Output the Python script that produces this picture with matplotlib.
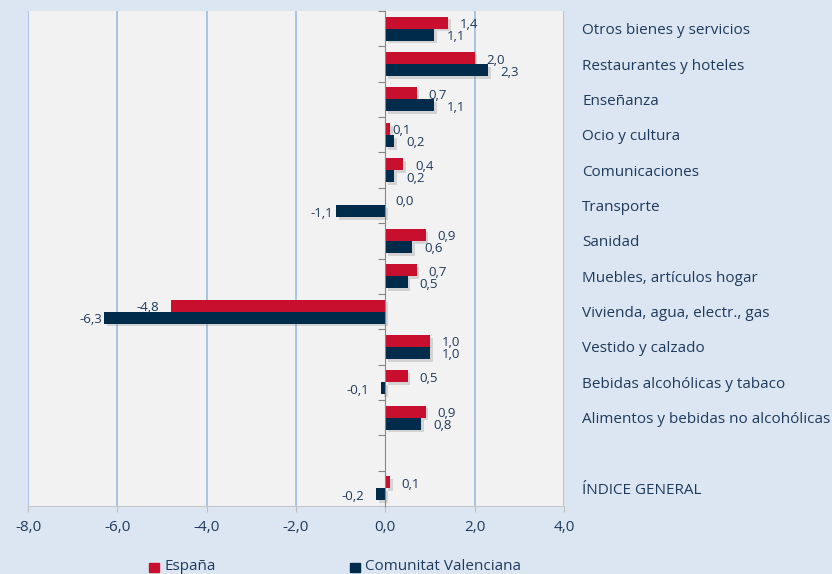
import matplotlib
matplotlib.use("Agg")
import matplotlib.pyplot as plt
import matplotlib.patheffects as pe
from matplotlib.transforms import blended_transform_factory, offset_copy
import numpy as np

categories = ["Otros bienes y servicios", "Restaurantes y hoteles", "Enseñanza",
              "Ocio y cultura", "Comunicaciones", "Transporte", "Sanidad",
              "Muebles, artículos hogar", "Vivienda, agua, electr., gas",
              "Vestido y calzado", "Bebidas alcohólicas y tabaco",
              "Alimentos y bebidas no alcohólicas", "", "ÍNDICE GENERAL"]
espana = [1.4, 2.0, 0.7, 0.1, 0.4, 0.0, 0.9, 0.7, -4.8, 1.0, 0.5, 0.9, None, 0.1]
cv = [1.1, 2.3, 1.1, 0.2, 0.2, -1.1, 0.6, 0.5, -6.3, 1.0, -0.1, 0.8, None, -0.2]
series_names = ["España", "Comunitat Valenciana"]
xticks = [-8.0, -6.0, -4.0, -2.0, 0.0, 2.0, 4.0]

RED = "#c8102e"
NAVY = "#002b4b"
TXT = "#1f3a5c"
FIG_BG = "#dce6f2"
AX_BG = "#f2f2f2"
GRID = "#9dbbe0"

plt.rcParams['font.family'] = ['Open Sans', 'DejaVu Sans']

fig = plt.figure(figsize=(8.32, 5.74), dpi=100, facecolor=FIG_BG)
ax = fig.add_axes([28/832, 1-506/574, (564-28)/832, (506-11)/574])
ax.set_facecolor(AX_BG)

n = len(categories)
h = 0.34
shadow = [pe.SimplePatchShadow(offset=(2, -2), shadow_rgbFace="#8c8c8c", alpha=0.3), pe.Normal()]

def fmt(v):
    return f"{v:.1f}".replace(".", ",")

# label offsets in pixels (default 12 px from bar end)
special = {("e", 3): 3, ("c", 8): 2, ("c", 5): 3, ("e", 5): 10}

for key, vals, col, dy in (("e", espana, RED, -h/2), ("c", cv, NAVY, h/2)):
    for i, v in enumerate(vals):
        if v is None:
            continue
        ax.barh(i + dy, v, height=h, color=col, zorder=3, path_effects=shadow)
        off = special.get((key, i), 12)
        if v >= 0:
            tr = offset_copy(ax.transData, fig=fig, x=off, y=-2, units='dots')
            ax.text(v, i + dy, fmt(v), transform=tr, ha='left', va='center',
                    fontsize=9.5, color=TXT, zorder=5)
        else:
            tr = offset_copy(ax.transData, fig=fig, x=-off, y=-2, units='dots')
            ax.text(v, i + dy, fmt(v), transform=tr, ha='right', va='center',
                    fontsize=9.5, color=TXT, zorder=5)

ax.set_xlim(-8, 4)
ax.set_ylim(n - 0.5, -0.5)
ax.set_xticks(xticks)
ax.set_xticklabels([fmt(t) for t in xticks], fontsize=11, color=TXT)
ax.tick_params(axis='x', length=4, color="#bfbfbf", pad=6)
for t in xticks:
    if t != 0:
        ax.axvline(t, color=GRID, lw=1.2, zorder=1)

ax.spines['left'].set_position(('data', 0))
ax.spines['left'].set_color("#868686")
ax.spines['left'].set_zorder(4)
ax.spines['bottom'].set_color("#c8c8c8")
ax.spines['top'].set_visible(False)
ax.spines['right'].set_visible(False)
ax.set_yticks(np.arange(-0.5, n, 1.0))
ax.set_yticklabels([])
ax.tick_params(axis='y', length=5, color="#868686", direction='out')

tr = offset_copy(blended_transform_factory(fig.transFigure, ax.transData),
                 fig=fig, x=0, y=-2, units='dots')
for i, c in enumerate(categories):
    ax.text(582/832, i, c, transform=tr, ha='left', va='center', fontsize=11,
            color=TXT, clip_on=False)

# legend
for x0, col, name in ((149, RED, series_names[0]), (350, NAVY, series_names[1])):
    fig.patches.append(plt.Rectangle((x0/832, 1-572/574), 10/832, 9/574,
                                     transform=fig.transFigure, color=col))
    fig.text((x0+15)/832, 1-567/574, name, fontsize=11, color=TXT, va='center', ha='left')

fig.savefig("out.png", dpi=100, facecolor=FIG_BG)
